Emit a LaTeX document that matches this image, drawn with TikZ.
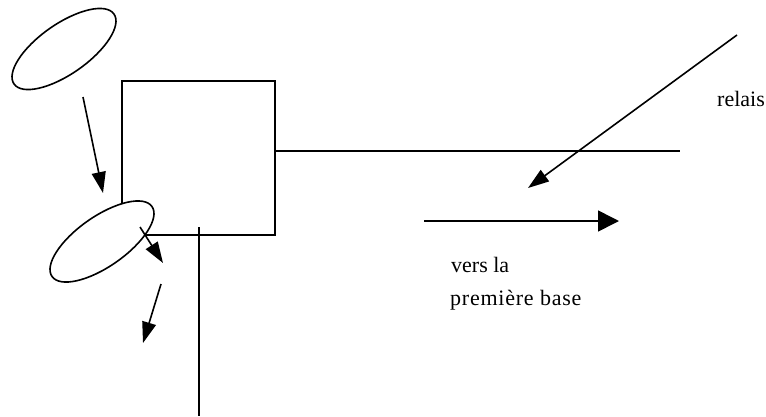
\documentclass[tikz,border=0pt]{standalone}
\usepackage{fontspec}
\setmainfont{Liberation Serif}
\newfontfamily\spacedserif[LetterSpace=3.5]{Liberation Serif}
\usetikzlibrary{shapes.geometric,arrows.meta}
\begin{document}
\begin{tikzpicture}[x=1pt,y=-1pt,
  ln/.style={line width=1.6pt},
  arr/.style={ln,-{Triangle[length=21pt,width=14pt]}},
  widearr/.style={ln,-{Triangle[length=21pt,width=21pt]}},
  player/.style={ellipse,draw,line width=1.6pt,fill=white,minimum width=122pt,minimum height=50pt,inner sep=0pt,rotate=35},
  base/.style={rectangle,draw,line width=1.6pt,minimum width=153pt,minimum height=154pt,inner sep=0pt},
  lab/.style={anchor=base west,inner sep=0pt,font=\fontsize{22}{33}\selectfont}]
\useasboundingbox (0,0) rectangle (766,416);
% base square
\node[base] (sq) at (198.5,158) {};
% lines
\coordinate (h1) at (275,151);
\coordinate (h2) at (680,151);
\draw[ln] (h1) -- (h2);
\coordinate (v1) at (199,227);
\coordinate (v2) at (199,416);
\draw[ln] (v1) -- (v2);
% players
\node[player] (p1) at (64,49) {};
\node[player] (p2) at (102,241.5) {};
% arrows
\coordinate (a1s) at (83,97);
\coordinate (a1e) at (103,193);
\draw[arr] (a1s) -- (a1e);
\coordinate (a2s) at (140,227);
\coordinate (a2e) at (163,263);
\draw[arr] (a2s) -- (a2e);
\coordinate (a3s) at (161,284);
\coordinate (a3e) at (143,343);
\draw[arr] (a3s) -- (a3e);
\coordinate (a4s) at (737,35);
\coordinate (a4e) at (528,188);
\draw[arr] (a4s) -- (a4e);
\coordinate (a5s) at (424,221);
\coordinate (a5e) at (619,221);
\draw[widearr] (a5s) -- (a5e);
% labels
\node[lab] (relais) at (717,106) {relais};
\node[lab] (vers) at (451,272) {vers la};
\node[lab,font=\fontsize{22}{33}\spacedserif] (prem) at (450,305) {première base};
\end{tikzpicture}
\end{document}
